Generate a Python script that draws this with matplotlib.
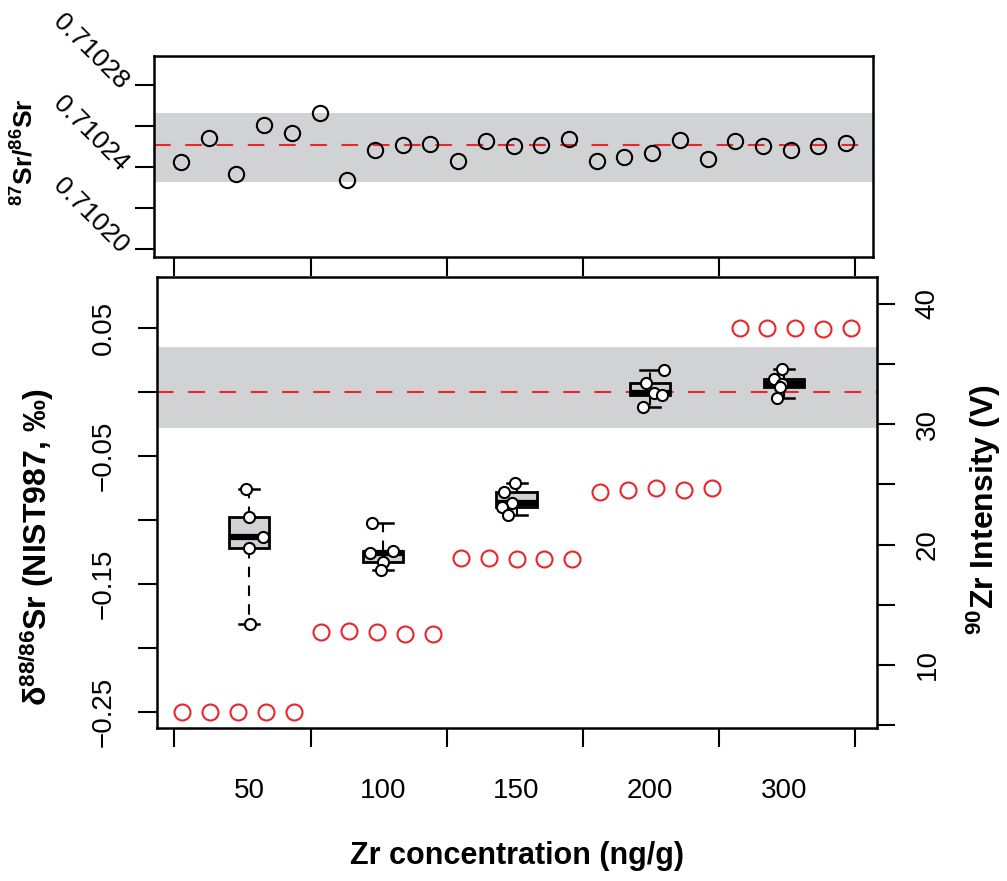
import matplotlib
matplotlib.use("Agg")
import matplotlib.pyplot as plt
import numpy as np

plt.rcParams["font.family"] = ["Liberation Sans", "DejaVu Sans"]
plt.rcParams["mathtext.fontset"] = "custom"
plt.rcParams["mathtext.rm"] = "Liberation Sans"
plt.rcParams["mathtext.bf"] = "Liberation Sans:bold"
plt.rcParams["mathtext.default"] = "bf"

# --- data ------------------------------------------------------------------
SR_RATIO = [0.7102424, 0.7102541, 0.7102366, 0.7102605, 0.7102566,
            0.7102663, 0.7102337, 0.7102483, 0.7102507, 0.7102512,
            0.7102429, 0.7102527, 0.7102502, 0.7102507, 0.7102537,
            0.7102429, 0.7102449, 0.7102468, 0.7102532, 0.7102439,
            0.7102527, 0.7102502, 0.7102483, 0.7102502, 0.7102517]
SR_MEAN = 0.7102507
SR_BAND = (0.7102327, 0.7102663)
SR_TICKS = [0.71020, 0.71022, 0.71024, 0.71026, 0.71028]
SR_TICK_LABELS = ["0.71020", "", "0.71024", "", "0.71028"]

GROUPS = ["50", "100", "150", "200", "300"]
DELTA = [
    [-0.0758, -0.0977, -0.1133, -0.1219, -0.1813],
    [-0.1023, -0.1258, -0.1242, -0.1328, -0.1391],
    [-0.0711, -0.0781, -0.0867, -0.0898, -0.0961],
    [0.0172, 0.0070, -0.0008, -0.0023, -0.0117],
    [0.0180, 0.0102, 0.0063, 0.0039, -0.0047],
]
JITTER = [
    [-0.022, 0.0, 0.105, 0.0, 0.007],
    [-0.082, -0.097, 0.075, 0.0, -0.015],
    [-0.015, -0.097, -0.037, -0.105, -0.067],
    [0.105, -0.030, 0.030, 0.090, -0.052],
    [-0.015, -0.075, -0.015, -0.030, -0.052],
]
DELTA_BAND = (-0.028, 0.035)
DELTA_TICKS = [-0.25, -0.20, -0.15, -0.10, -0.05, 0.0, 0.05]
DELTA_TICK_LABELS = ["\u22120.25", "", "\u22120.15", "", "\u22120.05", "", "0.05"]

ZR_V = [6.1, 6.1, 6.1, 6.1, 6.1,
        12.7, 12.8, 12.7, 12.6, 12.6,
        18.9, 18.9, 18.8, 18.8, 18.8,
        24.4, 24.5, 24.7, 24.5, 24.7,
        38.0, 38.0, 38.0, 37.9, 38.0]
ZR_TICKS = [5, 10, 15, 20, 25, 30, 35, 40]
ZR_TICK_LABELS = ["", "10", "", "20", "", "30", "", "40"]

RED = "#e8262b"
BAND = "#d1d2d4"
W, H = 1007, 881

fig = plt.figure(figsize=(W / 100, H / 100), dpi=100)


def style_spines(ax):
    for sp in ax.spines.values():
        sp.set_linewidth(1.8)
        sp.set_color("black")


# --- top panel: 87Sr/86Sr --------------------------------------------------
ax_t = fig.add_axes([154 / W, 1 - 257 / H, 719 / W, 201 / H])
idx = np.arange(1, len(SR_RATIO) + 1)
ax_t.axhspan(*SR_BAND, color=BAND, lw=0, zorder=0)
ax_t.axhline(SR_MEAN, color=RED, lw=1.5, ls=(0, (8, 7)), zorder=1)
ax_t.plot(idx, SR_RATIO, "o", ms=11, mfc="none", mec="black", mew=1.5, zorder=3)
ax_t.set_xlim(0.026, 25.97)
ax_t.set_ylim(0.7101961, 0.7102941)
ax_t.set_xticks([0.747, 5.692, 10.60, 15.51, 20.42, 25.33], labels=[""] * 6)
ax_t.set_yticks(SR_TICKS, labels=[""] * len(SR_TICKS))
ax_t.tick_params(axis="both", length=14, width=1.5, direction="out")
for v, lab in zip(SR_TICKS, SR_TICK_LABELS):
    if lab:
        ax_t.text(-0.042, v, lab, transform=ax_t.get_yaxis_transform(),
                  rotation=-45, rotation_mode="anchor", ha="right", va="center",
                  fontsize=19)
style_spines(ax_t)

# --- bottom panel: delta 88/86 Sr boxplots ---------------------------------
rect = [157 / W, 1 - 728 / H, 720 / W, 451 / H]
ax_b = fig.add_axes(rect)
ax_b.axhspan(*DELTA_BAND, color=BAND, lw=0, zorder=0)
ax_b.axhline(0, color=RED, lw=1.5, ls=(0, (8, 7)), zorder=1)

positions = np.arange(1, len(GROUPS) + 1)
stats = []
for vals in DELTA:
    a = np.asarray(vals)
    q1, med, q3 = np.percentile(a, [25, 50, 75])
    stats.append(dict(med=med, q1=q1, q3=q3, whislo=a.min(), whishi=a.max(), fliers=[]))
ax_b.bxp(stats, positions=positions, widths=0.3, capwidths=0.15, patch_artist=True,
         showfliers=False,
         boxprops=dict(facecolor=BAND, edgecolor="black", lw=2),
         medianprops=dict(color="black", lw=4.5, solid_capstyle="butt"),
         whiskerprops=dict(color="black", lw=1.5, ls=(0, (5, 4))),
         capprops=dict(color="black", lw=1.8),
         zorder=3)
for p, vals, jit in zip(positions, DELTA, JITTER):
    ax_b.plot(p + np.asarray(jit), vals, "o", ms=8, mfc="white", mec="black",
              mew=1.5, zorder=4)

ax_b.set_xlim(0.312, 5.695)
ax_b.set_ylim(-0.2625, 0.0898)
ax_b.set_xticks([0.439, 1.464, 2.480, 3.497, 4.514, 5.531], labels=[""] * 6)
ax_b.set_xticks(positions, labels=GROUPS, minor=True)
ax_b.tick_params(axis="x", which="major", length=14, width=1.5)
ax_b.tick_params(axis="x", which="minor", length=0, pad=36, labelsize=20)
ax_b.set_yticks(DELTA_TICKS, labels=DELTA_TICK_LABELS)
ax_b.tick_params(axis="y", length=14, width=1.5, pad=15, labelsize=20)
plt.setp(ax_b.get_yticklabels(), rotation=90, va="center")
style_spines(ax_b)

# --- overlay: 90Zr intensity on the right axis -----------------------------
ax_r = fig.add_axes(rect)
ax_r.patch.set_visible(False)
zr_idx = np.arange(1, len(ZR_V) + 1)
ax_r.plot(zr_idx, ZR_V, "o", ms=11.5, mfc="none", mec=RED, mew=1.5, zorder=5)
ax_r.set_xlim(0.103, 25.93)
ax_r.set_ylim(4.75, 42.24)
ax_r.set_xticks([])
ax_r.yaxis.tick_right()
ax_r.set_yticks(ZR_TICKS, labels=ZR_TICK_LABELS)
ax_r.tick_params(axis="y", length=13, width=1.5, pad=14, labelsize=20)
plt.setp(ax_r.get_yticklabels(), rotation=90, va="center")
for sp in ax_r.spines.values():
    sp.set_visible(False)

# --- axis titles -----------------------------------------------------------
fig.text(25 / W, 1 - 152 / H, r"$^{87}$Sr/$^{86}$Sr", rotation=90,
         ha="center", va="center", fontsize=19, fontweight="bold")
fig.text(37 / W, 1 - 547 / H, "\u03b4$^{88/86}$Sr (NIST987, \u2030)", rotation=90,
         ha="center", va="center", fontsize=23, fontweight="bold")
fig.text(984 / W, 1 - 510 / H, r"$^{90}$Zr Intensity (V)", rotation=90,
         ha="center", va="center", fontsize=23, fontweight="bold")
fig.text(517 / W, 1 - 856 / H, "Zr concentration (ng/g)",
         ha="center", va="center", fontsize=22, fontweight="bold")

fig.savefig("out.png", dpi=100, facecolor="white")
